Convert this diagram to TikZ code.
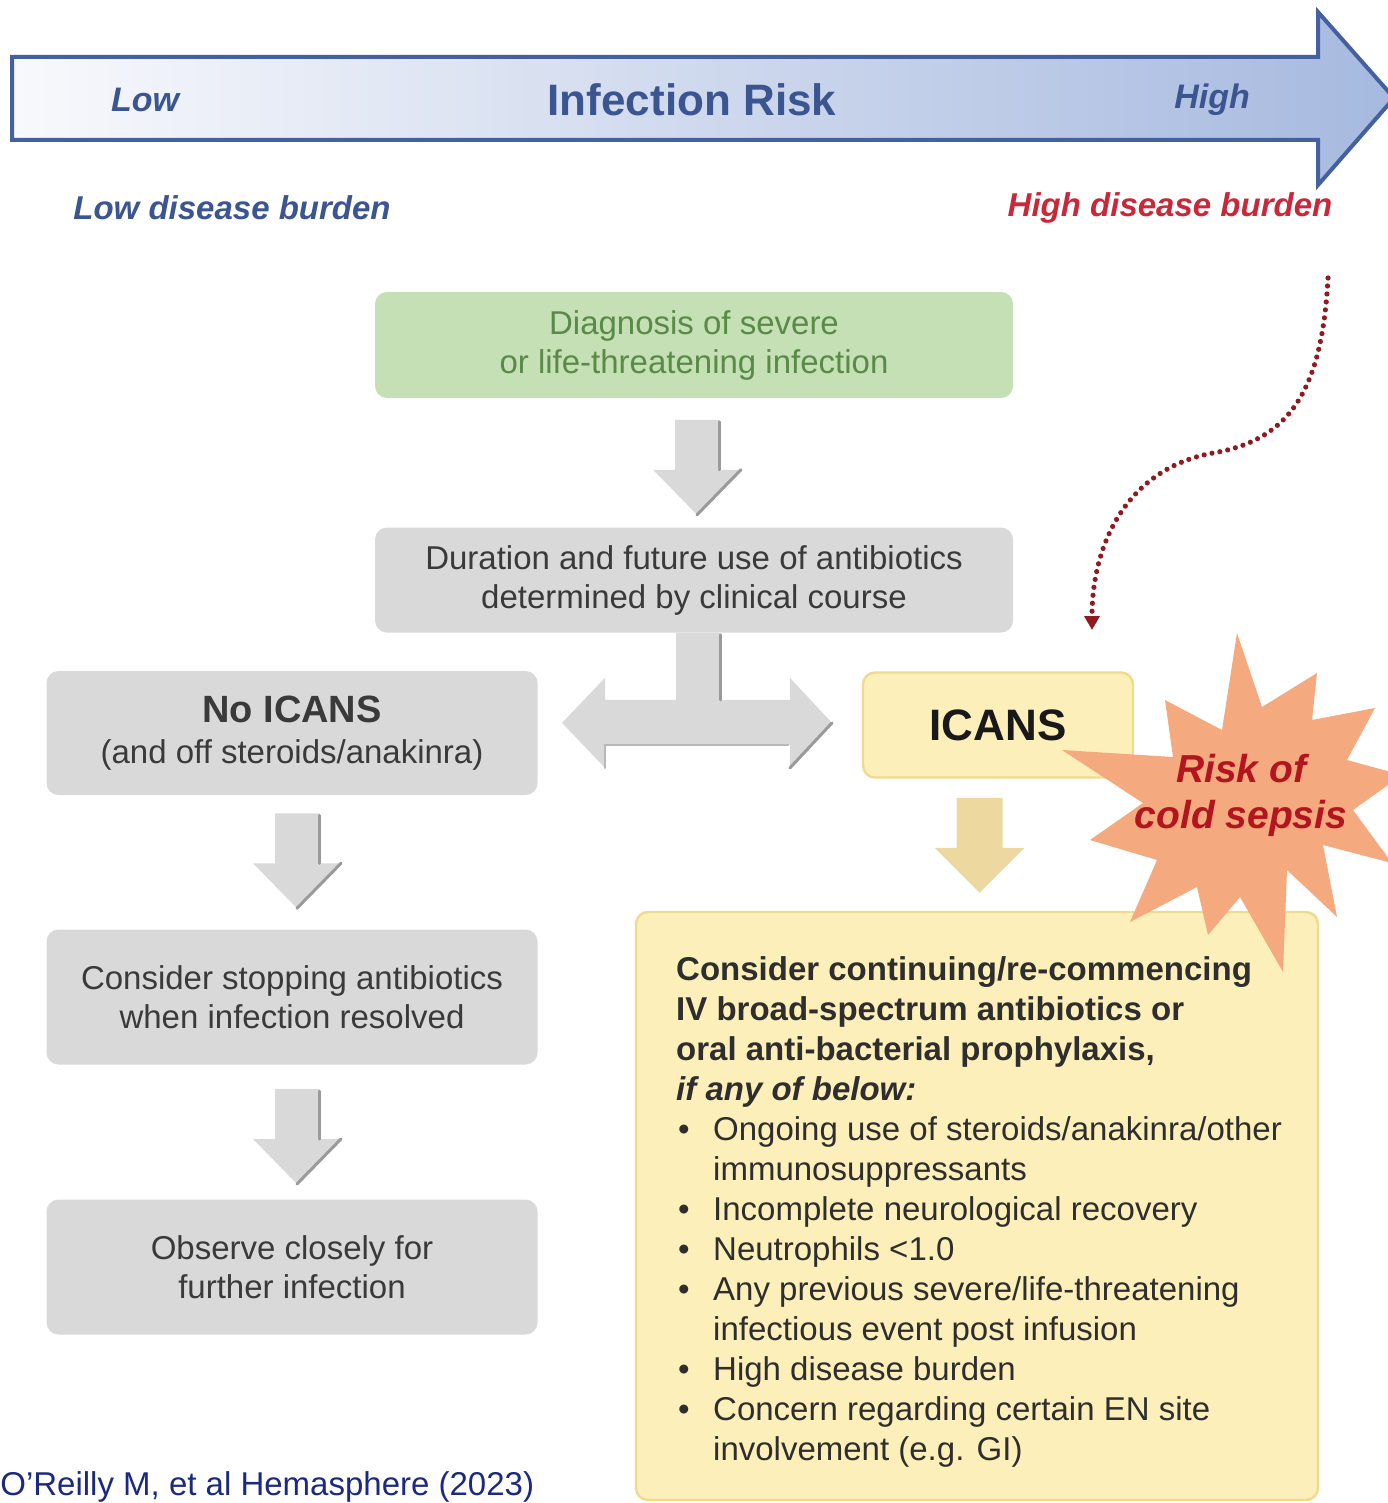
\documentclass[tikz,border=0pt]{standalone}
\usepackage{fontspec}
\setmainfont{Liberation Sans}
\usetikzlibrary{calc,arrows.meta}
\definecolor{boxgray}{HTML}{D9D9D9}
\definecolor{graytext}{HTML}{3A3A3A}
\definecolor{greenfill}{HTML}{C5E0B4}
\definecolor{greentext}{HTML}{5A8A48}
\definecolor{yelfill}{HTML}{FDEFB9}
\definecolor{yeledge}{HTML}{F0DA8E}
\definecolor{yelarrow}{HTML}{EDD9A0}
\definecolor{burstfill}{HTML}{F4A97E}
\definecolor{bursttext}{HTML}{B3151F}
\definecolor{navyb}{HTML}{3B5590}
\definecolor{redb}{HTML}{C8283A}
\definecolor{dotred}{HTML}{8E1B22}
\definecolor{citeblue}{HTML}{1B2A7E}
\definecolor{arrowedge}{HTML}{44609F}
\definecolor{arrowleft}{HTML}{F8F9FC}
\definecolor{arrowright}{HTML}{A6B9DF}
\definecolor{darkedge}{HTML}{9A9A9A}
\newcommand\myfs[2]{\fontsize{#1}{#2}\selectfont}
\newcommand\bul{\makebox[18.5pt][l]{\hspace{1pt}\textbullet}}
\newcommand\ind{\hspace*{18.5pt}}
\tikzset{
  box/.style={rounded corners=6pt, inner sep=0pt, align=center, font=\myfs{16.5}{19.5}},
  graybox/.style={box, fill=boxgray, text=graytext, minimum width=245.5pt},
  greenbox/.style={box, fill=greenfill, text=greentext},
  yelbox/.style={box, fill=yelfill, draw=yeledge, line width=1.2pt},
  arrowlabel/.style={inner sep=0pt, text=navyb, font=\myfs{17}{20}\bfseries\itshape},
  burden/.style={inner sep=0pt, font=\myfs{16.5}{20}\bfseries\itshape},
  graydown/.pic={
    \fill[boxgray] (-22,-47) -- (22,-47) -- (22,3) -- (44,3) -- (0,48) -- (-44,3) -- (-22,3) -- cycle;
    \draw[darkedge, line width=1.5pt, line cap=round] (22,-45) -- (22,3);
    \draw[darkedge, line width=1.5pt, line cap=round] (44,3) -- (0,48);
  },
  yeldown/.pic={
    \fill[yelarrow] (-23,-47) -- (23,-47) -- (23,3) -- (45,3) -- (0,48) -- (-45,3) -- (-23,3) -- cycle;
  }
}
\begin{document}
\begin{tikzpicture}[x=0.5pt,y=-0.5pt]
\useasboundingbox (0,0) rectangle (1387,1503);
% risk arrow
\draw[draw=arrowedge, line width=2pt, line join=miter, left color=arrowleft, right color=arrowright]
  (12,57) -- (1318,57) -- (1318,12) -- (1394,98) -- (1318,185) -- (1318,140) -- (12,140) -- cycle;
\node[arrowlabel] (low) at (145,100) {Low};
\node[inner sep=0pt, text=navyb, font=\myfs{22}{26}\bfseries] (risk) at (692,100) {Infection Risk};
\node[arrowlabel] (high) at (1212,100) {High};
\node[burden, text=navyb] (lowb) at (232,208) {Low disease burden};
\node[burden, text=redb] (highb) at (1170,208) {High disease burden};

% boxes
\node[greenbox, minimum width=319pt, minimum height=53pt] (diag) at (694,345) {Diagnosis of severe\\or life-threatening infection};
\node[graybox, minimum width=319pt, minimum height=52.5pt] (dur) at (694,580) {Duration and future use of antibiotics\\determined by clinical course};
\node[graybox, minimum height=62pt] (noicans) at (292,733) {{\myfs{19}{20}\bfseries No ICANS}\\[1pt](and off steroids/anakinra)};
\node[graybox, minimum height=67.5pt] (stop) at (292,997) {Consider stopping antibiotics\\when infection resolved};
\node[graybox, minimum height=67.5pt] (obs) at (292,1267) {Observe closely for\\further infection};
\node[yelbox, minimum width=135pt, minimum height=52.5pt, font=\myfs{22}{24}\bfseries, text=black!90] (icans) at (998,725) {ICANS};
\node[yelbox, minimum width=341pt, minimum height=294pt] (cons) at (977,1206) {};
\node[anchor=north west, inner sep=0pt, align=left, font=\myfs{16.5}{20}, text=black!82] (constext) at ($(cons.north west)+(41,45)$)
 {{\bfseries Consider continuing/re-commencing}\\
  {\bfseries IV broad-spectrum antibiotics or}\\
  {\bfseries oral anti-bacterial prophylaxis,}\\
  {\bfseries\itshape if any of below:}\\
  \bul Ongoing use of steroids/anakinra/other\\
  \ind immunosuppressants\\
  \bul Incomplete neurological recovery\\
  \bul Neutrophils <1.0\\
  \bul Any previous severe/life-threatening\\
  \ind infectious event post infusion\\
  \bul High disease burden\\
  \bul Concern regarding certain EN site\\
  \ind involvement (e.g. GI)};

% block arrows
\pic at ($($(diag.south)!0.5!(dur.north)$)+(3,4)$) {graydown};
\pic at ($($(noicans.south)!0.5!(stop.north)$)+(5,-2)$) {graydown};
\pic at ($($(stop.south)!0.5!(obs.north)$)+(5,4)$) {graydown};
\pic at ($($(icans.south)!0.5!(cons.north)$)+(-8,0)$) {yeldown};

% T-shaped double arrow
\begin{scope}[shift={(dur.south)}]
  \fill[boxgray] (-18,0) -- (26,0) -- (26,67) -- (96,67) -- (96,45) -- (138,90) -- (96,135) -- (96,112)
    -- (-89,112) -- (-89,135) -- (-132,90) -- (-89,45) -- (-89,67) -- (-18,67) -- cycle;
  \draw[darkedge, line width=1.5pt, line cap=round] (26,2) -- (26,67);
  \draw[darkedge, line width=1.5pt, line cap=round] (138,90) -- (96,135);
  \draw[darkedge!70, line width=1.2pt, line cap=round] (-89,135) -- (-89,112) -- (94,112);
\end{scope}

% starburst
\fill[burstfill] (1237,633) -- (1262,707) -- (1317,673) -- (1312,720) -- (1375,708) -- (1347,760)
  -- (1402,775) -- (1353,810) -- (1392,863) -- (1323,845) -- (1337,917) -- (1287,870)
  -- (1283,972) -- (1240,897) -- (1208,935) -- (1197,887) -- (1130,922) -- (1157,860)
  -- (1090,840) -- (1143,803) -- (1062,750) -- (1173,757) -- (1165,700) -- (1222,730) -- cycle;
\node[inner sep=0pt, align=center, text=bursttext, font=\myfs{19.5}{23}\bfseries\itshape] (sepsis) at (1241,795) {Risk of\\cold sepsis};

% dotted curve
\coordinate (dotstart) at (1328,278);
\coordinate (dotend) at (1092,630);
\draw[dotred, line width=2.6pt, line cap=round, dash pattern=on 0pt off 4pt, -{Triangle[length=7pt,width=7.5pt]}]
  (dotstart) .. controls (1322,390) and (1290,440) .. (1213,453)
  .. controls (1130,468) and (1092,540) .. (dotend);

% citation
\node[anchor=base west, inner sep=0pt, text=citeblue, font=\myfs{16.5}{20}] (cite) at (0,1495) {O’Reilly M, et al Hemasphere (2023)};
\end{tikzpicture}
\end{document}
